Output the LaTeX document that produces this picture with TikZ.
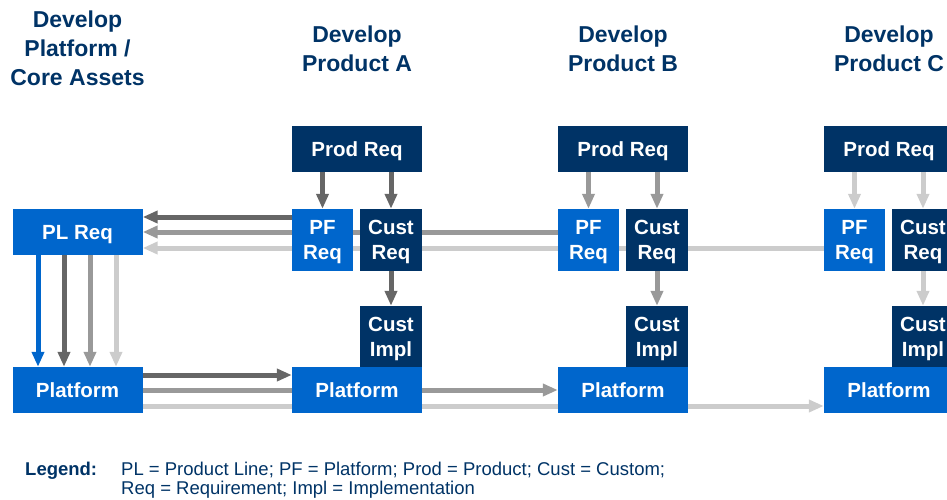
\documentclass[tikz,border=0pt]{standalone}
\usepackage{fontspec}
\setmainfont{Liberation Sans}
\usetikzlibrary{arrows.meta,backgrounds}
\definecolor{plblue}{HTML}{0066CC}
\definecolor{plnavy}{HTML}{003366}
\definecolor{flowA}{HTML}{666666}
\definecolor{flowB}{HTML}{999999}
\definecolor{flowC}{HTML}{CCCCCC}

\begin{document}
\begin{tikzpicture}[x=1pt,y=-1pt,
  box/.style={rectangle,inner sep=0pt,text=white,align=center,text depth=0pt,
    font=\fontsize{20.5}{25}\selectfont\bfseries},
  pfbox/.style={box,fill=plblue},
  custbox/.style={box,fill=plnavy},
  wide/.style={minimum width=130pt,minimum height=46pt},
  narrow/.style={minimum width=62pt,minimum height=62pt},
  title/.style={text=plnavy,align=center,font=\fontsize{23}{29}\selectfont\bfseries},
  legend/.style={anchor=base west,inner sep=0pt,text=plnavy,align=left,font=\fontsize{18.5}{19}\selectfont},
  flow/.style={line width=5pt,-{Triangle[width=12pt,length=15pt]}}]
  \clip (0,0) rectangle (947,500);
  % platform / core assets
  \node[title,anchor=base] (tpl) at (77.5,86) {Develop\\Platform /\\Core Assets};
  \node[pfbox,wide] (plreq) at (77.5,232) {PL Req};
  \node[pfbox,wide] (plpf) at (77.5,390) {Platform};
  \foreach \x/\c in {38/plblue,64/flowA,90/flowB,116/flowC}
    \draw[flow,\c] (plreq.south -| \x,0) -- (plpf.north -| \x,0);
  % products
  \foreach \p/\dx/\c in {A/0/flowA,B/266/flowB,C/532/flowC}{
    \begin{scope}[xshift=\dx]
      \node[title,anchor=base] (t\p) at (357,72) {Develop\\Product \p};
      \node[custbox,wide] (prodreq\p) at (357,149) {Prod Req};
      \node[pfbox,narrow,minimum width=61pt] (pfreq\p) at (322.5,240) {PF\\Req};
      \node[custbox,narrow] (custreq\p) at (391,240) {Cust\\Req};
      \node[custbox,narrow,minimum height=61pt] (custimpl\p) at (391,336.5) {Cust\\Impl};
      \node[pfbox,wide] (plat\p) at (357,390) {Platform};
      \draw[flow,\c] (prodreq\p.south -| pfreq\p.north) -- (pfreq\p.north);
      \draw[flow,\c] (prodreq\p.south -| custreq\p.north) -- (custreq\p.north);
      \draw[flow,\c] (custreq\p) -- (custimpl\p);
    \end{scope}
  }
  \begin{pgfonlayer}{background}
    \foreach \p/\y/\yy/\c in {A/217/375/flowA,B/232/390/flowB,C/248/406/flowC}{
      \draw[flow,\c] (pfreq\p.west |- 0,\y) -- (plreq.east |- 0,\y);
      \draw[flow,\c] (plpf.east |- 0,\yy) -- (plat\p.west |- 0,\yy);
    }
  \end{pgfonlayer}
  % legend
  \node[legend,font=\fontsize{18.5}{19}\selectfont\bfseries] (leg) at (25,475) {Legend:};
  \node[legend] (legtext) at (121,494)
    {PL = Product Line; PF = Platform; Prod = Product; Cust = Custom;\\Req = Requirement; Impl = Implementation};
\end{tikzpicture}
\end{document}
